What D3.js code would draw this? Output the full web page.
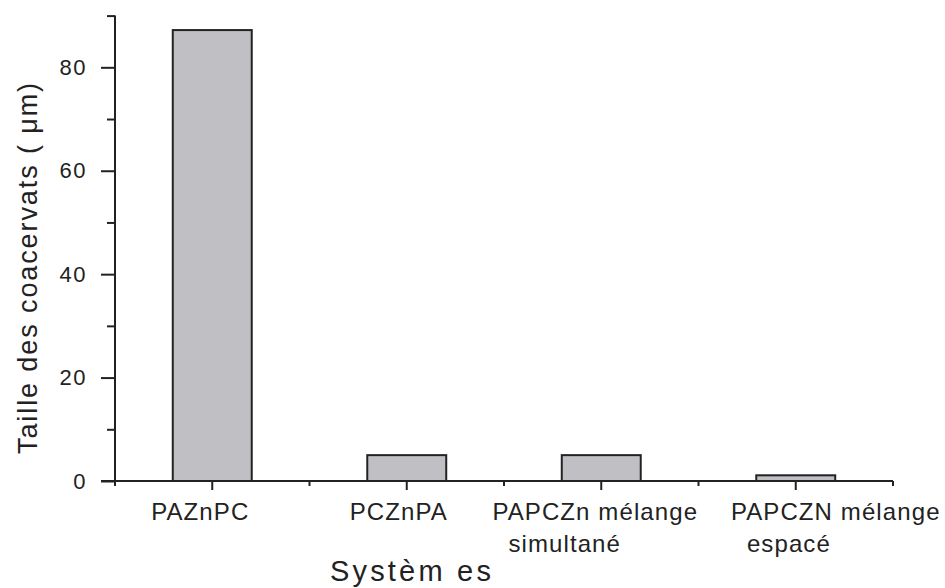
<!DOCTYPE html>
<html>
<head>
<meta charset="utf-8">
<script src="https://cdn.jsdelivr.net/npm/d3@7"></script>
<style>
  body { margin: 0; background: #fff; }
  svg { display: block; font-family: "Liberation Sans", Arial, sans-serif; }
</style>
</head>
<body>
<svg></svg>
<script>
// data
const categories = ["PAZnPC", "PCZnPA", "PAPCZn mélange", "PAPCZN mélange"];
const subLabels = ["", "", "simultané", "espacé"];
const sizes = [87.2, 5.0, 5.0, 1.1];
const yTicks = [0, 20, 40, 60, 80];
const yMinorTicks = [10, 30, 50, 70, 90];
const yTitle = "Taille des coacervats ( μm)";
const xTitle = "Systèm es";

// label nudges (the original labels are not exactly centred under ticks)
const labelShift = [-12, -8, -6, 40];

const width = 945, height = 588;
const margin = { top: 15.6, right: 52, bottom: 107, left: 115 };
const innerWidth = width - margin.left - margin.right;
const innerHeight = height - margin.top - margin.bottom;
const ink = "#222";

const svg = d3.select("svg")
    .attr("width", width)
    .attr("height", height);

const g = svg.append("g")
    .attr("transform", `translate(${margin.left},${margin.top})`);

const x = d3.scaleBand()
    .domain(categories)
    .range([0, innerWidth])
    .paddingInner(0.594)
    .paddingOuter(0.297);

const y = d3.scaleLinear().domain([0, 90]).range([innerHeight, 0]);

// bars
g.selectAll(".bar")
    .data(categories)
    .enter().append("rect")
    .attr("class", "bar")
    .attr("x", d => x(d))
    .attr("width", x.bandwidth())
    .attr("y", (d, i) => y(sizes[i]))
    .attr("height", (d, i) => y(0) - y(sizes[i]))
    .attr("fill", "#c0c0c4")
    .attr("stroke", ink)
    .attr("stroke-width", 2);

const styleAxis = sel => {
    sel.selectAll("line").attr("stroke", ink).attr("stroke-width", 2);
    sel.selectAll("text")
        .attr("fill", ink)
        .attr("font-size", 22)
        .attr("letter-spacing", 1.5);
    sel.selectAll("text").filter(function () { return !this.textContent; }).remove();
    sel.select(".domain").remove();
};

// y axis, major and minor ticks
g.append("g")
    .call(d3.axisLeft(y).tickValues(yTicks).tickSize(14).tickPadding(14))
    .call(styleAxis);

g.append("g")
    .call(d3.axisLeft(y).tickValues(yMinorTicks).tickSize(8).tickFormat(""))
    .call(styleAxis);

g.append("line")
    .attr("x1", 0).attr("x2", 0)
    .attr("y1", y(0)).attr("y2", y(90))
    .attr("stroke", ink).attr("stroke-width", 2);

// x axis: major ticks at categories, minor ones at band edges
g.append("g")
    .attr("transform", `translate(0,${innerHeight})`)
    .call(d3.axisBottom(x).tickSize(9).tickFormat(""))
    .call(styleAxis);

const edges = d3.range(categories.length + 1).map(i => i * x.step());
g.append("g")
    .selectAll("line")
    .data(edges)
    .enter().append("line")
    .attr("x1", d => d).attr("x2", d => d)
    .attr("y1", innerHeight).attr("y2", innerHeight + 5)
    .attr("stroke", ink).attr("stroke-width", 2);

g.append("line")
    .attr("x1", -14).attr("x2", innerWidth)
    .attr("y1", innerHeight).attr("y2", innerHeight)
    .attr("stroke", ink).attr("stroke-width", 2);

// category labels
categories.forEach((c, i) => {
    const cx = x(c) + x.bandwidth() / 2 + labelShift[i];
    const first = g.append("text")
        .attr("x", cx)
        .attr("y", innerHeight + 39)
        .attr("text-anchor", "middle")
        .attr("fill", ink)
        .attr("font-size", 24)
        .attr("letter-spacing", 1.1)
        .text(c);
    if (subLabels[i]) {
        const w = first.node().getComputedTextLength();
        g.append("text")
            .attr("x", cx - w / 2 + 16)
            .attr("y", innerHeight + 71)
            .attr("fill", ink)
            .attr("font-size", 24)
            .attr("letter-spacing", 1.1)
            .text(subLabels[i]);
    }
});

// axis titles
svg.append("text")
    .attr("transform", "translate(37,267.5) rotate(-90)")
    .attr("text-anchor", "middle")
    .attr("fill", ink)
    .attr("font-size", 27)
    .attr("letter-spacing", 1.9)
    .text(yTitle);

svg.append("text")
    .attr("x", 412)
    .attr("y", 581)
    .attr("text-anchor", "middle")
    .attr("fill", ink)
    .attr("font-size", 29)
    .attr("letter-spacing", 3.2)
    .text(xTitle);
</script>
</body>
</html>
